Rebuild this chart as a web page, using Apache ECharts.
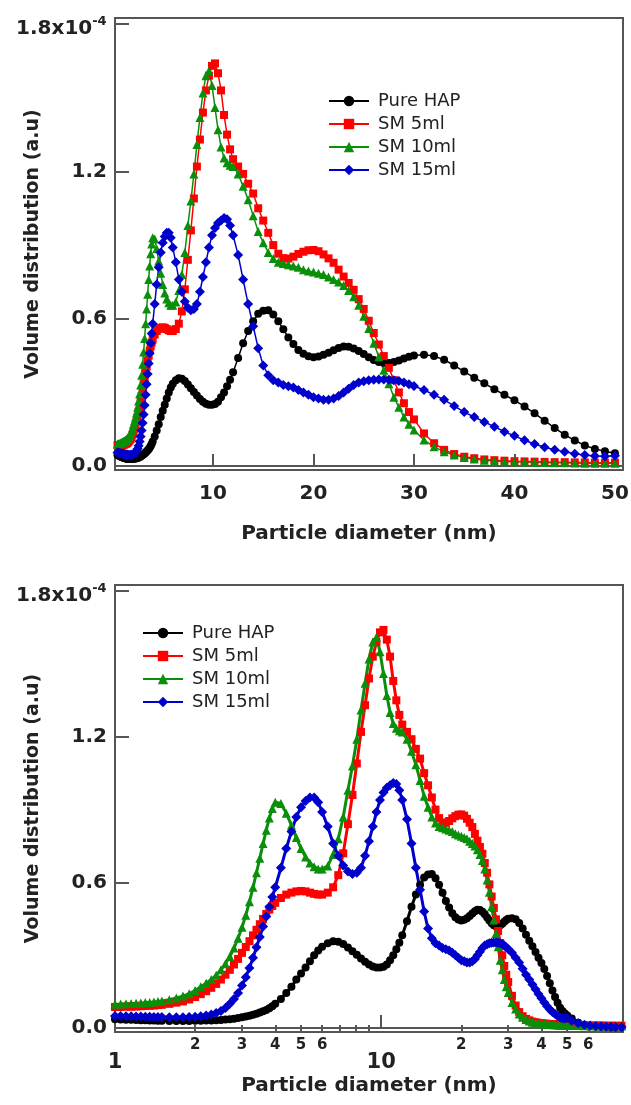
<!DOCTYPE html>
<html>
<head>
<meta charset="utf-8">
<script src="https://cdn.jsdelivr.net/npm/echarts@6/dist/echarts.min.js"></script>
<style>
  html, body { margin: 0; padding: 0; background: #fff; }
  #chart { width: 631px; height: 1105px; }
</style>
</head>
<body>
<div id="chart"></div>
<script>
// particle diameter (nm), shared by both panels
const diameterNm = [
  0.5, 0.6, 0.7, 0.8, 0.9,
  1.0, 1.05, 1.1, 1.15, 1.2, 1.25, 1.3, 1.35, 1.4, 1.45, 1.5,
  1.6, 1.7, 1.8, 1.9, 2.0,
  2.1, 2.2, 2.3, 2.4, 2.5, 2.6, 2.7, 2.8, 2.9, 3.0, 3.1, 3.2, 3.3, 3.4, 3.5, 3.6, 3.7, 3.8, 3.9, 4.0,
  4.2, 4.4, 4.6, 4.8, 5.0, 5.2, 5.4, 5.6, 5.8, 6.0,
  6.3, 6.6, 6.9, 7.2, 7.5, 7.8, 8.1, 8.4, 8.7, 9.0, 9.3, 9.6, 9.9, 10.2, 10.5, 10.8, 11.1, 11.4, 11.7, 12.0,
  12.5, 13, 13.5, 14, 14.5, 15, 15.5, 16, 16.5, 17, 17.5, 18, 18.5, 19, 19.5, 20, 20.5, 21, 21.5, 22,
  22.5, 23, 23.5, 24, 24.5, 25, 25.5, 26, 26.5, 27, 27.5, 28, 28.5, 29, 29.5, 30,
  31, 32, 33, 34, 35, 36, 37, 38, 39, 40, 41, 42, 43, 44, 45, 46, 47, 48, 49, 50,
  52, 55, 58, 61, 64, 67, 70, 73, 76, 80
];

// volume distribution, in units of 1e-4
const pureHap = [
  0.045, 0.043, 0.041, 0.039, 0.037,
  0.036, 0.035, 0.034, 0.034, 0.033, 0.032, 0.032, 0.031, 0.031, 0.030, 0.030,
  0.029, 0.029, 0.029, 0.029, 0.030,
  0.030, 0.031, 0.031, 0.032, 0.033, 0.035, 0.037, 0.039, 0.042, 0.045, 0.048, 0.051, 0.055, 0.059, 0.064, 0.069, 0.075, 0.082, 0.090, 0.100,
  0.120, 0.145, 0.170, 0.200, 0.225, 0.250, 0.275, 0.300, 0.320, 0.335,
  0.350, 0.358, 0.356, 0.346, 0.332, 0.317, 0.302, 0.287, 0.273, 0.262, 0.254, 0.250, 0.250, 0.253, 0.262, 0.280, 0.300, 0.325, 0.352, 0.382,
  0.44, 0.50, 0.55, 0.59, 0.62, 0.633, 0.635, 0.617, 0.59, 0.557, 0.524, 0.497, 0.473, 0.457, 0.447, 0.443, 0.446, 0.453, 0.462, 0.472,
  0.481, 0.487, 0.486, 0.479, 0.469, 0.456, 0.443, 0.432, 0.424, 0.42, 0.42, 0.424, 0.43, 0.438, 0.445, 0.45,
  0.453, 0.448, 0.433, 0.41, 0.385, 0.36, 0.337, 0.313, 0.29, 0.268, 0.243, 0.215, 0.185, 0.155, 0.128, 0.104, 0.084, 0.07, 0.06, 0.052,
  0.04, 0.022, 0.012, 0.008, 0.006, 0.005, 0.005, 0.004, 0.004, 0.004
];
const sm5 = [
  0.085, 0.085, 0.085, 0.085, 0.086,
  0.087, 0.087, 0.088, 0.088, 0.089, 0.090, 0.091, 0.092, 0.093, 0.095, 0.096,
  0.100, 0.105, 0.110, 0.118, 0.128,
  0.140, 0.152, 0.166, 0.182, 0.200, 0.220, 0.240, 0.262, 0.285, 0.310, 0.334, 0.358, 0.382, 0.405, 0.428, 0.450, 0.470, 0.488, 0.503, 0.516,
  0.536, 0.550, 0.558, 0.563, 0.565, 0.563, 0.558, 0.553, 0.550, 0.550,
  0.558, 0.58, 0.63, 0.72, 0.84, 0.96, 1.09, 1.22, 1.33, 1.44, 1.53, 1.59, 1.63, 1.64, 1.60, 1.53, 1.43, 1.35, 1.29, 1.25,
  1.22, 1.19, 1.15, 1.11, 1.05, 1.00, 0.95, 0.90, 0.865, 0.847, 0.845, 0.853, 0.864, 0.873, 0.879, 0.88, 0.875, 0.862, 0.846, 0.828,
  0.80, 0.772, 0.746, 0.718, 0.68, 0.64, 0.592, 0.542, 0.495, 0.448, 0.40, 0.35, 0.30, 0.256, 0.22, 0.19,
  0.133, 0.093, 0.066, 0.049, 0.038, 0.032, 0.027, 0.024, 0.022, 0.020, 0.019, 0.018, 0.017, 0.016, 0.016, 0.015, 0.015, 0.014, 0.014, 0.014,
  0.013, 0.012, 0.012, 0.011, 0.011, 0.011, 0.010, 0.010, 0.010, 0.010
];
const sm10 = [
  0.090, 0.091, 0.092, 0.094, 0.096,
  0.098, 0.099, 0.100, 0.101, 0.102, 0.103, 0.105, 0.106, 0.108, 0.110, 0.112,
  0.117, 0.124, 0.132, 0.142, 0.155,
  0.170, 0.185, 0.200, 0.218, 0.240, 0.265, 0.295, 0.330, 0.370, 0.415, 0.465, 0.520, 0.580, 0.640, 0.700, 0.760, 0.815, 0.865, 0.905, 0.930,
  0.925, 0.885, 0.835, 0.785, 0.740, 0.705, 0.680, 0.665, 0.655, 0.655,
  0.668, 0.715, 0.78, 0.87, 0.98, 1.08, 1.19, 1.31, 1.42, 1.52, 1.59, 1.61, 1.55, 1.46, 1.37, 1.30, 1.255, 1.235, 1.225, 1.22,
  1.19, 1.14, 1.085, 1.02, 0.955, 0.91, 0.87, 0.845, 0.83, 0.825, 0.82, 0.815, 0.81, 0.80, 0.795, 0.79, 0.785, 0.78, 0.77, 0.76,
  0.75, 0.735, 0.715, 0.69, 0.655, 0.61, 0.56, 0.50, 0.445, 0.39, 0.335, 0.28, 0.24, 0.20, 0.17, 0.147,
  0.106, 0.079, 0.058, 0.045, 0.035, 0.029, 0.024, 0.021, 0.019, 0.018, 0.017, 0.016, 0.015, 0.014, 0.014, 0.013, 0.012, 0.012, 0.011, 0.011,
  0.011, 0.011, 0.010, 0.010, 0.010, 0.010, 0.010, 0.010, 0.010, 0.010
];
const sm15 = [
  0.055, 0.054, 0.053, 0.052, 0.051,
  0.050, 0.050, 0.049, 0.049, 0.048, 0.048, 0.047, 0.047, 0.046, 0.046, 0.046,
  0.045, 0.045, 0.045, 0.046, 0.047,
  0.049, 0.052, 0.056, 0.062, 0.071, 0.083, 0.100, 0.120, 0.145, 0.175, 0.210, 0.248, 0.290, 0.333, 0.375, 0.418, 0.460, 0.500, 0.540, 0.580,
  0.66, 0.74, 0.81, 0.87, 0.91, 0.935, 0.95, 0.95, 0.93, 0.89,
  0.83, 0.76, 0.71, 0.67, 0.645, 0.635, 0.64, 0.66, 0.71, 0.77, 0.83, 0.89, 0.94, 0.97, 0.99, 1.00, 1.01, 1.005, 0.98, 0.94,
  0.86, 0.76, 0.66, 0.57, 0.48, 0.41, 0.37, 0.35, 0.34, 0.33, 0.325, 0.32, 0.31, 0.30, 0.29, 0.28, 0.275, 0.27, 0.27, 0.275,
  0.285, 0.30, 0.315, 0.33, 0.34, 0.345, 0.35, 0.352, 0.353, 0.353, 0.352, 0.35, 0.346, 0.34, 0.333, 0.326,
  0.31, 0.29, 0.27, 0.245, 0.22, 0.20, 0.18, 0.16, 0.14, 0.123, 0.105, 0.09, 0.077, 0.066, 0.058, 0.05, 0.045, 0.041, 0.04, 0.042,
  0.03, 0.02, 0.014, 0.011, 0.009, 0.008, 0.007, 0.006, 0.005, 0.005
];

const seriesNames = ['Pure HAP', 'SM 5ml', 'SM 10ml', 'SM 15ml'];
const yTicks = [0, 0.6, 1.2, 1.8];
const linearTicks = [10, 20, 30, 40, 50];
const logMajorTicks = [1, 10];
const logMinorTicks = [2, 3, 4, 5, 6, 7, 8, 9, 20, 30, 40, 50, 60, 70, 80];
const logMinorLabels = [2, 3, 4, 5, 6, 20, 30, 40, 50, 60];

const FONT = 'DejaVu Sans';
const AXIS_COLOR = '#555';
const TEXT_COLOR = '#222';
const styles = [
  { color: '#000000', symbol: 'circle', size: 8 },
  { color: '#ff0000', symbol: 'rect', size: 8 },
  { color: '#0a8f0a', symbol: 'triangle', size: 9 },
  { color: '#0000cc', symbol: 'diamond', size: 10 }
];
const values = [pureHap, sm5, sm10, sm15];

const boldText = { fontFamily: FONT, fontWeight: 'bold', fontSize: 20, color: TEXT_COLOR };

function yLabel(v) {
  if (Math.abs(v - 1.8) < 1e-6) return '{a|1.8x10}{s|-4}{h| }';
  return v.toFixed(1);
}

function yAxis(gridIndex) {
  return {
    type: 'value', gridIndex, min: -0.016, max: 1.825,
    axisLine: { show: true, lineStyle: { color: AXIS_COLOR, width: 2 } },
    axisTick: { inside: true, length: 14, lineStyle: { color: AXIS_COLOR, width: 2 }, customValues: yTicks },
    axisLabel: {
      customValues: yTicks, margin: 8, formatter: yLabel, ...boldText,
      rich: {
        a: { ...boldText, lineHeight: 20, verticalAlign: 'bottom' },
        s: { fontFamily: FONT, fontWeight: 'bold', fontSize: 13, color: TEXT_COLOR, lineHeight: 14, padding: [6, 0, 0, 0], verticalAlign: 'top' },
        h: { fontSize: 1, lineHeight: 30 }
      }
    },
    splitLine: { show: false },
    name: 'Volume distribution (a.u)', nameLocation: 'middle', nameGap: 72, nameMoveOverlap: false,
    nameTextStyle: { ...boldText, fontSize: 19 }
  };
}

// top panel stops at 50 nm, the log panel uses every point
function lineSeries(i, xAxisIndex, yAxisIndex, lineWidth, maxX) {
  const st = styles[i];
  const data = diameterNm.map((d, k) => [d, values[i][k]]).filter((p) => p[0] <= maxX);
  return {
    name: seriesNames[i], type: 'line', xAxisIndex, yAxisIndex, data,
    symbol: st.symbol, symbolSize: st.size, showSymbol: true,
    itemStyle: { color: st.color },
    lineStyle: { color: st.color, width: lineWidth },
    emphasis: { disabled: true },
    animation: false
  };
}

function legend(left, top) {
  return {
    data: seriesNames, orient: 'vertical', left, top, padding: 0,
    itemWidth: 40, itemHeight: 13, itemGap: 5,
    textStyle: { fontFamily: FONT, fontSize: 18, color: TEXT_COLOR, padding: [0, 0, 0, 4] },
    lineStyle: { width: 2 },
    selectedMode: false
  };
}

const chart = echarts.init(document.getElementById('chart'), null, { renderer: 'canvas' });

chart.setOption({
  backgroundColor: '#fff',
  animation: false,
  grid: [
    { left: 115, top: 18, right: 8, height: 452, show: true, borderColor: AXIS_COLOR, borderWidth: 2, outerBoundsMode: 'none' },
    { left: 115, top: 585, right: 8, height: 447, show: true, borderColor: AXIS_COLOR, borderWidth: 2, outerBoundsMode: 'none' }
  ],
  legend: [legend(328, 92), legend(142, 624)],
  xAxis: [
    {
      type: 'value', gridIndex: 0, min: 0.25, max: 50.8,
      axisLine: { lineStyle: { color: AXIS_COLOR, width: 2 } },
      axisTick: { inside: true, length: 12, lineStyle: { color: AXIS_COLOR, width: 2 }, customValues: linearTicks },
      axisLabel: { customValues: linearTicks, margin: 14, ...boldText },
      splitLine: { show: false },
      name: 'Particle diameter (nm)', nameLocation: 'middle', nameGap: 54, nameMoveOverlap: false,
      nameTextStyle: boldText
    },
    {
      type: 'log', gridIndex: 1, min: 1, max: 81, position: 'bottom',
      axisLine: { lineStyle: { color: AXIS_COLOR, width: 2 } },
      axisTick: { inside: true, length: 13, lineStyle: { color: AXIS_COLOR, width: 2 }, customValues: logMajorTicks },
      axisLabel: { customValues: logMajorTicks, margin: 20, ...boldText, fontSize: 21 },
      splitLine: { show: false },
      name: 'Particle diameter (nm)', nameLocation: 'middle', nameGap: 44, nameMoveOverlap: false,
      nameTextStyle: boldText
    },
    {
      type: 'log', gridIndex: 1, min: 1, max: 81, position: 'bottom',
      axisLine: { show: false },
      axisTick: { inside: true, length: 7, lineStyle: { color: AXIS_COLOR, width: 2 }, customValues: logMinorTicks },
      axisLabel: {
        customValues: logMinorLabels, margin: 6, ...boldText, fontSize: 15,
        formatter: (v) => String(v >= 20 ? Math.round(v / 10) : Math.round(v))
      },
      splitLine: { show: false }
    }
  ],
  yAxis: [yAxis(0), yAxis(1)],
  series: [
    lineSeries(0, 0, 0, 1.5, 50), lineSeries(1, 0, 0, 1.5, 50), lineSeries(2, 0, 0, 1.5, 50), lineSeries(3, 0, 0, 1.5, 50),
    lineSeries(0, 1, 1, 3, 100), lineSeries(1, 1, 1, 3, 100), lineSeries(2, 1, 1, 3, 100), lineSeries(3, 1, 1, 3, 100)
  ]
});
</script>
</body>
</html>
